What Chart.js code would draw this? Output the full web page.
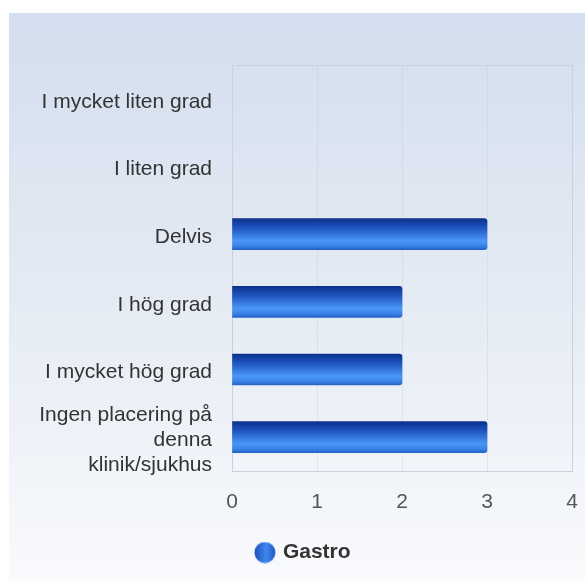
<!DOCTYPE html>
<html>
<head>
<meta charset="utf-8">
<script src="https://cdn.jsdelivr.net/npm/chart.js@4/dist/chart.umd.min.js"></script>
<style>
  html, body { margin: 0; padding: 0; background: #fff; }
  #wrap { width: 585px; height: 581px; }
</style>
</head>
<body>
<div id="wrap"><canvas id="c" width="585" height="581"></canvas></div>
<script>
const categories = [
  "I mycket liten grad",
  "I liten grad",
  "Delvis",
  "I hög grad",
  "I mycket hög grad",
  ["Ingen placering på", "denna", "klinik/sjukhus"]
];
const seriesName = "Gastro";
const values = [0, 0, 3, 2, 2, 3];
const xTicks = [0, 1, 2, 3, 4];

const FONT = '"Liberation Sans", Arial, sans-serif';
const BAR_THICK = 31;

// legend marker: shaded blue sphere
const dot = document.createElement('canvas');
dot.width = 22; dot.height = 22;
(function(){
  const g = dot.getContext('2d');
  const grd = g.createLinearGradient(0, 0, 22, 0);
  grd.addColorStop(0, '#1b4fb8');
  grd.addColorStop(0.55, '#3f86ee');
  grd.addColorStop(1, '#1f56c4');
  g.fillStyle = grd;
  g.beginPath(); g.arc(11, 11, 10.5, 0, Math.PI * 2); g.fill();
})();

const bgPlugin = {
  id: 'bg',
  afterLayout(chart) {
    if (chart.legend) { chart.legend.left += 18; chart.legend.right += 18; }
  },
  beforeDraw(chart) {
    const ctx = chart.ctx;
    ctx.save();
    ctx.fillStyle = '#ffffff';
    ctx.fillRect(0, 0, chart.width, chart.height);
    const g = ctx.createLinearGradient(0, 13, 0, chart.height);
    g.addColorStop(0, '#d3deee');
    g.addColorStop(0.5, '#e5ebf4');
    g.addColorStop(1, '#f9fafc');
    ctx.fillStyle = g;
    ctx.fillRect(9, 13, chart.width - 9, chart.height - 13);
    ctx.restore();
  },
  beforeDatasetsDraw(chart) {
    const a = chart.chartArea, ctx = chart.ctx;
    ctx.save();
    ctx.strokeStyle = '#c9d1dc';
    ctx.lineWidth = 1;
    ctx.strokeRect(Math.round(a.left) + 0.5, Math.round(a.top) + 0.5,
                   Math.round(a.right - a.left), Math.round(a.bottom - a.top));
    ctx.restore();
  }
};

function barFill(context) {
  const chart = context.chart;
  const ys = chart.scales.y;
  if (context.raw === 0) return 'rgba(0,0,0,0)';
  if (!ys || context.dataIndex === undefined) return '#2f6fd6';
  const yc = ys.getPixelForValue(context.dataIndex);
  const t = yc - BAR_THICK / 2, b = yc + BAR_THICK / 2;
  const g = chart.ctx.createLinearGradient(0, t, 0, b);
  g.addColorStop(0, '#0c318c');
  g.addColorStop(0.3, '#1f55c0');
  g.addColorStop(0.72, '#4a97f7');
  g.addColorStop(0.88, '#3a82e8');
  g.addColorStop(1, '#2462c8');
  return g;
}

new Chart(document.getElementById('c'), {
  type: 'bar',
  data: {
    labels: categories,
    datasets: [{
      label: seriesName,
      data: values,
      backgroundColor: barFill,
      borderWidth: 0,
      borderRadius: 3,
      borderSkipped: 'start',
      barThickness: BAR_THICK
    }]
  },
  plugins: [bgPlugin],
  options: {
    indexAxis: 'y',
    responsive: false,
    animation: false,
    layout: { padding: { top: 65, right: 13, bottom: 8, left: 0 } },
    scales: {
      x: {
        min: 0, max: 4,
        afterBuildTicks(scale) { scale.ticks = xTicks.map(v => ({ value: v })); },
        afterFit(scale) { scale.height = 61; scale.paddingLeft = 0; scale.paddingRight = 0; },
        border: { display: false },
        grid: { color: 'rgba(190,198,210,0.3)', drawTicks: false },
        ticks: { padding: 19, color: '#555555', font: { family: FONT, size: 21 } }
      },
      y: {
        afterFit(scale) { scale.width = 232; },
        border: { display: false },
        grid: { display: false, drawTicks: false },
        ticks: { autoSkip: false, padding: 20, labelOffset: 3, color: '#333333', font: { family: FONT, size: 21, lineHeight: 1.2 } }
      }
    },
    plugins: {
      tooltip: { enabled: false },
      legend: {
        position: 'bottom',
        labels: {
          color: '#333333',
          font: { family: FONT, size: 21, weight: 'bold' },
          usePointStyle: true,
          boxWidth: 15,
          boxHeight: 15,
          padding: 10,
          generateLabels(chart) {
            return chart.data.datasets.map((ds, i) => ({
              text: ds.label,
              fillStyle: '#2f6fd6',
              strokeStyle: '#2f6fd6',
              lineWidth: 0,
              pointStyle: dot,
              hidden: false,
              datasetIndex: i,
              fontColor: '#333333'
            }));
          }
        }
      }
    }
  }
});
</script>
</body>
</html>
